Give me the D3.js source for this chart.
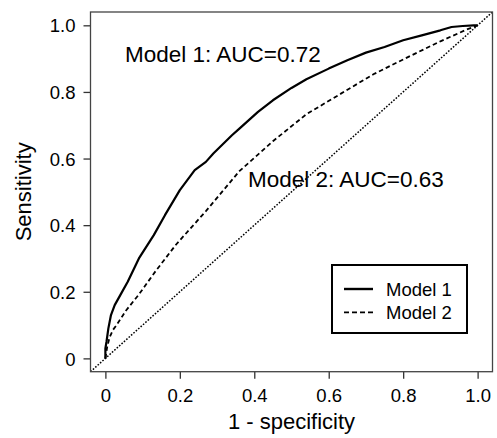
<!DOCTYPE html>
<html>
<head>
<meta charset="utf-8">
<script src="https://cdn.jsdelivr.net/npm/d3@7"></script>
<style>
  body { margin: 0; background: #fff; }
  text { font-family: "Liberation Sans", Arial, sans-serif; fill: #000; }
</style>
</head>
<body>
<div id="chart"></div>
<script>
// ROC curves (false positive rate vs sensitivity)
const model1Fpr = [0, 0, 0.003, 0.008, 0.015, 0.025, 0.04, 0.06, 0.09, 0.13, 0.16, 0.2, 0.24, 0.27, 0.29, 0.34, 0.36, 0.41, 0.45, 0.5, 0.54, 0.6, 0.65, 0.7, 0.75, 0.8, 0.85, 0.9, 0.93, 0.96, 0.99, 1];
const model1Sens = [0, 0.03, 0.05, 0.09, 0.13, 0.16, 0.19, 0.23, 0.30, 0.37, 0.43, 0.505, 0.565, 0.59, 0.615, 0.67, 0.69, 0.74, 0.775, 0.812, 0.838, 0.87, 0.895, 0.918, 0.935, 0.955, 0.97, 0.985, 0.995, 0.998, 1, 1];

const model2Fpr = [0, 0.005, 0.011, 0.02, 0.03, 0.055, 0.09, 0.135, 0.19, 0.27, 0.36, 0.45, 0.54, 0.63, 0.72, 0.81, 0.9, 0.97, 1];
const model2Sens = [0, 0.035, 0.062, 0.085, 0.10, 0.143, 0.192, 0.262, 0.342, 0.442, 0.562, 0.652, 0.733, 0.793, 0.853, 0.903, 0.952, 0.987, 1];

const tickValues = [0, 0.2, 0.4, 0.6, 0.8, 1.0];
const tickLabels = ['0', '0.2', '0.4', '0.6', '0.8', '1.0'];
const seriesNames = ['Model 1', 'Model 2'];
const annotations = ['Model 1: AUC=0.72', 'Model 2: AUC=0.63'];

const width = 497;
const height = 438;
const box = { left: 90.5, right: 492.5, top: 12, bottom: 371.7 };

const svg = d3.select('#chart')
  .append('svg')
  .attr('width', width)
  .attr('height', height);

const x = d3.scaleLinear().domain([-0.04, 1.04]).range([box.left, box.right]);
const y = d3.scaleLinear().domain([-0.04, 1.04]).range([box.bottom, box.top]);

const tickFormat = (d, i) => tickLabels[i];

// axes
const xAxis = svg.append('g')
  .attr('transform', `translate(0,${box.bottom})`)
  .call(d3.axisBottom(x).tickValues(tickValues).tickFormat(tickFormat).tickSizeOuter(0).tickSize(7).tickPadding(7));

const yAxis = svg.append('g')
  .attr('transform', `translate(${box.left},0)`)
  .call(d3.axisLeft(y).tickValues(tickValues).tickFormat(tickFormat).tickSizeOuter(0).tickSize(7).tickPadding(8));

[xAxis, yAxis].forEach(g => {
  g.select('.domain').remove();
  g.selectAll('line').attr('stroke', '#333').attr('stroke-width', 1.3);
  g.selectAll('text')
    .style('font-size', '18.5px')
    .style('font-family', '"Liberation Sans", Arial, sans-serif')
    .attr('fill', '#000');
});

xAxis.selectAll('text').attr('dy', '0.9em');
yAxis.selectAll('text').attr('dy', '0.36em');

// clip for the reference diagonal
svg.append('clipPath')
  .attr('id', 'plot-clip')
  .append('rect')
  .attr('x', box.left)
  .attr('y', box.top)
  .attr('width', box.right - box.left)
  .attr('height', box.bottom - box.top);

const line = d3.line()
  .x(d => x(d[0]))
  .y(d => y(d[1]));

svg.append('path')
  .attr('clip-path', 'url(#plot-clip)')
  .attr('d', line([[-0.04, -0.04], [1.04, 1.04]]))
  .attr('fill', 'none')
  .attr('stroke', '#000')
  .attr('stroke-width', 1.5)
  .attr('stroke-dasharray', '1.6,1.6');

const model1 = model1Fpr.map((f, i) => [f, model1Sens[i]]);
const model2 = model2Fpr.map((f, i) => [f, model2Sens[i]]);

svg.append('path')
  .attr('d', line(model2))
  .attr('fill', 'none')
  .attr('stroke', '#000')
  .attr('stroke-width', 1.8)
  .attr('stroke-dasharray', '4.5,3');

svg.append('path')
  .attr('d', line(model1))
  .attr('fill', 'none')
  .attr('stroke', '#000')
  .attr('stroke-width', 2.2)
  .attr('stroke-linejoin', 'round');

// plot frame
svg.append('rect')
  .attr('x', box.left)
  .attr('y', box.top)
  .attr('width', box.right - box.left)
  .attr('height', box.bottom - box.top)
  .attr('fill', 'none')
  .attr('stroke', '#444')
  .attr('stroke-width', 1.3);

// annotations
svg.append('text')
  .attr('x', 125)
  .attr('y', 61.5)
  .style('font-size', '22.5px')
  .text(annotations[0]);

svg.append('text')
  .attr('x', 248)
  .attr('y', 187)
  .style('font-size', '22.5px')
  .text(annotations[1]);

// axis titles
svg.append('text')
  .attr('x', (box.left + box.right) / 2)
  .attr('y', 429)
  .attr('text-anchor', 'middle')
  .style('font-size', '22px')
  .text('1 - specificity');

svg.append('text')
  .attr('transform', `translate(31,${(box.top + box.bottom) / 2}) rotate(-90)`)
  .attr('text-anchor', 'middle')
  .style('font-size', '22px')
  .text('Sensitivity');

// legend
const legend = svg.append('g');

legend.append('rect')
  .attr('x', 332)
  .attr('y', 265)
  .attr('width', 135)
  .attr('height', 68)
  .attr('fill', '#fff')
  .attr('stroke', '#000')
  .attr('stroke-width', 2);

const dashes = [null, '5,3'];
const widths = [2.4, 1.8];

seriesNames.forEach((name, i) => {
  const ly = 289 + i * 23.3;
  legend.append('line')
    .attr('x1', 344)
    .attr('x2', 373)
    .attr('y1', ly)
    .attr('y2', ly)
    .attr('stroke', '#000')
    .attr('stroke-width', widths[i])
    .attr('stroke-dasharray', dashes[i]);
  legend.append('text')
    .attr('x', 386)
    .attr('y', ly)
    .attr('dy', '0.36em')
    .style('font-size', '18.5px')
    .text(name);
});
</script>
</body>
</html>
